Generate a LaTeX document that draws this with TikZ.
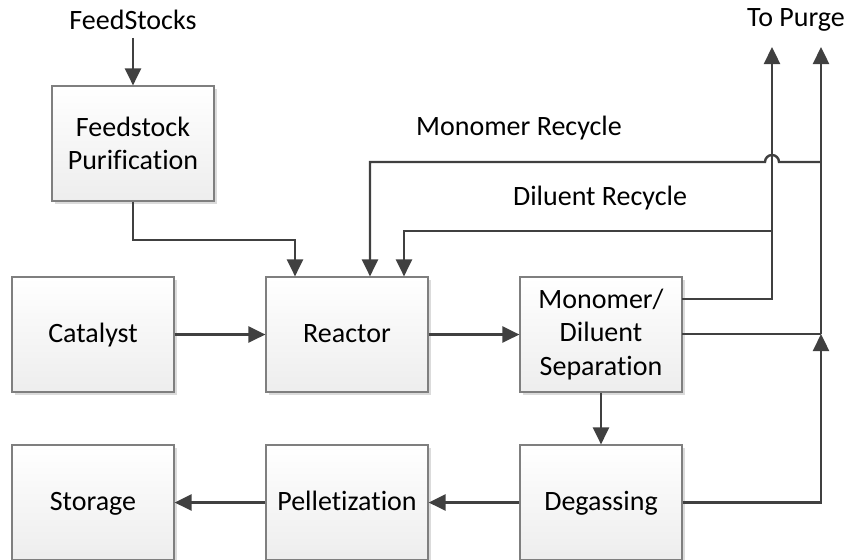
\documentclass[tikz,border=0pt]{standalone}
\usepackage{fontspec}
\setmainfont[Ligatures={NoCommon}]{Carlito}
\usetikzlibrary{arrows.meta,shadows}
\definecolor{linec}{HTML}{404040}
\definecolor{boxline}{HTML}{7F7F7F}
\begin{document}
\begin{tikzpicture}[x=0.5pt,y=-0.5pt,
  box/.style={draw=boxline, line width=0.6pt, top color=white, bottom color=black!7,
    minimum width=81pt, minimum height=57.5pt, align=center, inner sep=2pt,
    font=\fontsize{14pt}{16.75pt}\selectfont,
    drop shadow={shadow xshift=1.6pt, shadow yshift=-1.6pt, fill=black!14, opacity=1}},
  one/.style={text height=10.5pt, text depth=3pt},
  lbl/.style={font=\fontsize{14pt}{16.75pt}\selectfont, inner sep=1pt, text height=10.5pt, text depth=3pt},
  conn/.style={draw=linec, line width=1.2pt},
  arr/.style={conn, -{Triangle[length=8.5pt,width=8pt]}}]
\useasboundingbox (0,0) rectangle (850,559);
% boxes
\node[box] (fp)  at (133,143.5) {Feedstock\\Purification};
\node[box,one] (cat) at (93,334.5)  {Catalyst};
\node[box,one] (rea) at (347,334.5) {Reactor};
\node[box] (sep) at (601,334.5) {Monomer/\\Diluent\\Separation};
\node[box,one] (sto) at (93,502.5)  {Storage};
\node[box,one] (pel) at (347,502.5) {Pelletization};
\node[box,one] (deg) at (601,502.5) {Degassing};
% labels
\node[lbl] (fs) at (133,22) {FeedStocks};
\node[lbl] at (519,128) {Monomer Recycle};
\node[lbl] at (600,198) {Diluent Recycle};
\node[lbl] at (796,19) {To Purge};
% coordinates
\coordinate (fpturn) at (295,240);
\coordinate (mrturn) at (370,162);
\coordinate (drturn) at (404,231);
\coordinate (pl) at (772,47);
\coordinate (pr) at (821,47);
\coordinate (sepa) at (682,299);
\coordinate (sepb) at (682,334);
\coordinate (jl) at (772,231);
\coordinate (jr) at (821,334);
\coordinate (mj) at (821,162);
\coordinate (jumpR) at (779,162);
% connectors
\draw[arr] (fs.south) -- (fp.north);
\draw[arr] (fp.south) |- (fpturn) -- (fpturn |- rea.north);
\draw[arr] (cat.east) -- (rea.west);
\draw[arr] (rea.east) -- (sep.west);
\draw[arr] (sep.south) -- (deg.north);
\draw[arr] (deg.west) -- (pel.east);
\draw[arr] (pel.west) -- (sto.east);
\draw[arr] (sepa) -| (pl);
\draw[arr] (jl) -| (drturn) -- (drturn |- rea.north);
\draw[conn] (sepb) -- (jr);
\draw[arr] (deg.east) -| (jr);
\draw[arr] (jr) -- (pr);
\draw[arr] (mj) -- (jumpR) arc[start angle=0,end angle=180,radius=3.5pt] -| (mrturn) -- (mrturn |- rea.north);
\end{tikzpicture}
\end{document}
